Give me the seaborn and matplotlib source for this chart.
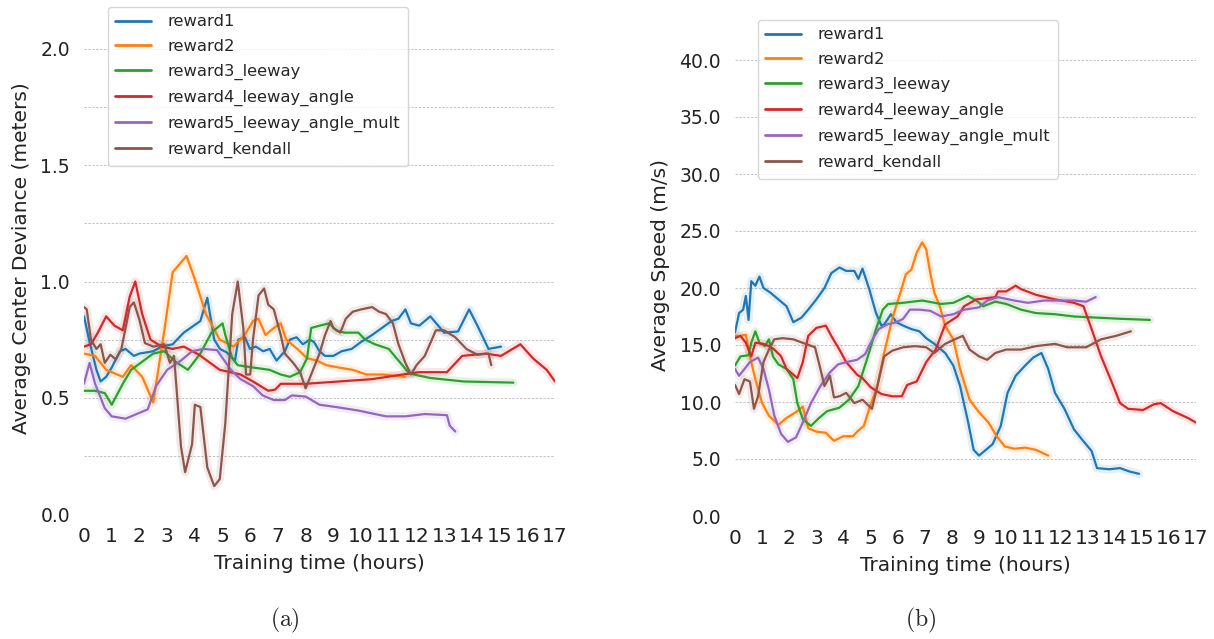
import numpy as np
import pandas as pd
import matplotlib
matplotlib.use("Agg")
import matplotlib.pyplot as plt
from matplotlib.ticker import MultipleLocator, FormatStrFormatter
import seaborn as sns

# ---------------- DATA ----------------
series_names = ["reward1", "reward2", "reward3_leeway", "reward4_leeway_angle",
                "reward5_leeway_angle_mult", "reward_kendall"]
x_ticks = list(range(0, 18))

# (a) Average Center Deviance (meters)
dev_r1_t = [0, 0.2, 0.45, 0.6, 0.8, 1.0, 1.3, 1.5, 1.8, 2.0, 2.5, 2.8, 3.2, 3.6, 4.2, 4.45, 4.7, 4.91, 5.15, 5.45, 5.57, 5.81, 5.99, 6.2, 6.47, 6.7, 6.95, 7.25, 7.43, 7.67, 7.9, 8.15, 8.3, 8.5, 8.7, 9.0, 9.3, 9.66, 10.0, 10.4, 10.75, 11.1, 11.35, 11.6, 11.8, 12.1, 12.5, 13.0, 13.5, 13.9, 14.2, 14.6, 15.05]
dev_r1_v = [0.85, 0.74, 0.62, 0.57, 0.59, 0.63, 0.70, 0.71, 0.68, 0.69, 0.70, 0.72, 0.73, 0.78, 0.83, 0.93, 0.75, 0.71, 0.695, 0.66, 0.75, 0.76, 0.71, 0.72, 0.70, 0.71, 0.66, 0.70, 0.75, 0.76, 0.73, 0.75, 0.74, 0.70, 0.68, 0.68, 0.70, 0.71, 0.74, 0.77, 0.80, 0.83, 0.84, 0.88, 0.82, 0.81, 0.85, 0.78, 0.785, 0.88, 0.81, 0.71, 0.72]

dev_r2_t = [0, 0.4, 0.8, 1.4, 1.7, 2.1, 2.5, 2.9, 3.2, 3.7, 4.0, 4.4, 4.9, 5.4, 5.8, 6.1, 6.3, 6.55, 6.85, 7.1, 7.3, 7.7, 8.05, 8.4, 8.75, 9.2, 9.7, 10.2, 10.75, 11.6]
dev_r2_v = [0.69, 0.68, 0.62, 0.59, 0.64, 0.59, 0.48, 0.79, 1.04, 1.11, 1.01, 0.86, 0.75, 0.72, 0.77, 0.83, 0.84, 0.77, 0.80, 0.82, 0.75, 0.71, 0.67, 0.66, 0.64, 0.63, 0.62, 0.60, 0.60, 0.59]

dev_r3_t = [0, 0.4, 0.75, 1.0, 1.4, 1.7, 2.1, 2.5, 2.9, 3.3, 3.75, 4.2, 4.6, 5.0, 5.1, 5.35, 5.55, 6.1, 6.7, 7.1, 7.43, 7.8, 8.05, 8.2, 8.5, 8.85, 9.1, 9.4, 9.9, 10.15, 10.5, 11.0, 11.35, 11.7, 11.9, 12.5, 13.7, 15.5]
dev_r3_v = [0.53, 0.53, 0.52, 0.47, 0.56, 0.62, 0.655, 0.69, 0.70, 0.655, 0.62, 0.69, 0.78, 0.82, 0.77, 0.67, 0.64, 0.63, 0.62, 0.60, 0.59, 0.61, 0.67, 0.80, 0.81, 0.82, 0.79, 0.78, 0.78, 0.75, 0.73, 0.71, 0.66, 0.61, 0.60, 0.585, 0.57, 0.565]

dev_r4_t = [0, 0.25, 0.5, 0.8, 1.1, 1.4, 1.65, 1.85, 2.1, 2.4, 2.8, 3.2, 3.6, 4.15, 4.9, 5.65, 6.1, 6.65, 6.9, 7.1, 8.0, 9.2, 10.4, 11.5, 12.1, 13.1, 13.65, 14.5, 15.05, 15.75, 16.2, 16.7, 17.0]
dev_r4_v = [0.72, 0.73, 0.78, 0.85, 0.81, 0.79, 0.935, 1.0, 0.86, 0.75, 0.72, 0.71, 0.72, 0.685, 0.62, 0.60, 0.57, 0.53, 0.535, 0.56, 0.56, 0.57, 0.58, 0.60, 0.61, 0.61, 0.68, 0.69, 0.68, 0.73, 0.67, 0.62, 0.57]

dev_r5_t = [0, 0.2, 0.4, 0.75, 1.0, 1.5, 1.9, 2.3, 2.6, 3.0, 3.5, 3.9, 4.3, 4.8, 5.3, 5.65, 6.1, 6.45, 6.85, 7.25, 7.5, 8.0, 8.5, 9.1, 9.9, 10.9, 11.6, 12.3, 13.1, 13.2, 13.4]
dev_r5_v = [0.56, 0.65, 0.56, 0.455, 0.42, 0.41, 0.43, 0.45, 0.55, 0.62, 0.66, 0.70, 0.71, 0.705, 0.62, 0.58, 0.55, 0.51, 0.49, 0.49, 0.51, 0.505, 0.47, 0.46, 0.445, 0.42, 0.42, 0.43, 0.425, 0.38, 0.355]

dev_rk_t = [0, 0.1, 0.25, 0.45, 0.6, 0.75, 0.95, 1.15, 1.35, 1.65, 1.8, 2.0, 2.2, 2.5, 2.9, 3.1, 3.25, 3.5, 3.65, 3.9, 4.0, 4.2, 4.45, 4.7, 4.9, 5.1, 5.35, 5.55, 5.75, 5.85, 6.0, 6.1, 6.3, 6.5, 6.65, 6.85, 7.1, 7.25, 7.55, 7.8, 8.0, 8.2, 8.5, 8.7, 8.9, 9.0, 9.25, 9.45, 9.7, 10.0, 10.4, 10.65, 10.9, 11.15, 11.35, 11.6, 11.8, 12.0, 12.3, 12.7, 13.0, 13.4, 13.8, 14.2, 14.6, 14.7]
dev_rk_v = [0.89, 0.88, 0.75, 0.71, 0.73, 0.65, 0.685, 0.665, 0.71, 0.89, 0.91, 0.835, 0.735, 0.72, 0.73, 0.65, 0.68, 0.29, 0.18, 0.30, 0.47, 0.46, 0.20, 0.12, 0.15, 0.39, 0.86, 1.0, 0.80, 0.60, 0.60, 0.75, 0.94, 0.97, 0.90, 0.88, 0.77, 0.69, 0.65, 0.61, 0.54, 0.60, 0.69, 0.77, 0.83, 0.80, 0.78, 0.84, 0.87, 0.88, 0.89, 0.87, 0.86, 0.82, 0.73, 0.65, 0.60, 0.64, 0.68, 0.79, 0.79, 0.76, 0.71, 0.685, 0.69, 0.64]

# (b) Average Speed (m/s)
spd_r1_t = [0, 0.15, 0.3, 0.4, 0.5, 0.6, 0.75, 0.9, 1.05, 1.3, 1.6, 1.9, 2.15, 2.45, 2.7, 3.0, 3.3, 3.55, 3.85, 4.1, 4.4, 4.55, 4.7, 4.95, 5.2, 5.4, 5.5, 5.75, 5.95, 6.2, 6.5, 6.8, 7.05, 7.35, 7.75, 8.05, 8.3, 8.6, 8.8, 9.0, 9.2, 9.5, 9.8, 10.05, 10.35, 10.7, 11.0, 11.3, 11.55, 11.8, 12.15, 12.5, 12.8, 13.15, 13.35, 13.8, 14.2, 14.55, 14.9]
spd_r1_v = [16.1, 17.8, 18.1, 19.3, 17.2, 20.6, 20.2, 21.0, 20.0, 19.6, 19.0, 18.4, 17.0, 17.4, 18.1, 19.0, 20.0, 21.3, 21.8, 21.5, 21.5, 20.8, 21.7, 19.9, 17.8, 16.7, 16.8, 17.7, 17.0, 16.7, 16.4, 16.2, 15.6, 15.1, 14.3, 13.2, 11.4, 8.2, 5.8, 5.3, 5.7, 6.3, 7.9, 10.8, 12.3, 13.2, 13.9, 14.3, 12.9, 10.8, 9.4, 7.6, 6.7, 5.7, 4.2, 4.1, 4.2, 3.9, 3.7]

spd_r2_t = [0, 0.2, 0.4, 0.55, 0.75, 1.0, 1.25, 1.6, 1.9, 2.3, 2.5, 2.7, 3.0, 3.35, 3.65, 4.0, 4.35, 4.55, 4.75, 4.95, 5.25, 5.5, 5.8, 6.1, 6.3, 6.5, 6.7, 6.9, 7.05, 7.2, 7.35, 7.55, 7.75, 8.05, 8.3, 8.65, 9.0, 9.35, 9.65, 9.95, 10.3, 10.7, 11.1, 11.55]
spd_r2_v = [15.8, 15.8, 15.9, 14.0, 12.0, 9.9, 8.8, 8.0, 8.6, 9.2, 9.6, 7.7, 7.4, 7.3, 6.6, 7.0, 7.0, 7.5, 7.9, 9.4, 11.4, 14.3, 17.3, 19.6, 21.2, 21.6, 23.1, 24.0, 23.4, 21.3, 19.6, 18.4, 16.7, 15.5, 12.9, 10.2, 9.1, 8.2, 7.0, 6.1, 5.9, 6.0, 5.8, 5.3]

spd_r3_t = [0, 0.2, 0.5, 0.6, 0.75, 0.9, 1.1, 1.25, 1.4, 1.6, 1.9, 2.15, 2.3, 2.5, 2.8, 3.1, 3.4, 3.85, 4.2, 4.55, 4.9, 5.2, 5.45, 5.65, 6.2, 6.9, 7.6, 8.05, 8.6, 8.9, 9.15, 9.6, 10.0, 10.55, 11.1, 11.8, 12.5, 13.35, 14.2, 15.3]
spd_r3_v = [13.2, 14.0, 14.1, 15.2, 16.2, 15.2, 14.9, 15.5, 14.0, 13.3, 12.9, 12.0, 9.9, 8.5, 7.9, 8.6, 9.2, 9.5, 10.2, 11.4, 14.0, 16.4, 18.1, 18.6, 18.7, 18.9, 18.6, 18.7, 19.3, 18.9, 18.4, 18.8, 18.6, 18.1, 17.8, 17.7, 17.5, 17.4, 17.3, 17.2]

spd_r4_t = [0, 0.2, 0.4, 0.6, 0.75, 1.05, 1.25, 1.45, 1.7, 1.9, 2.15, 2.3, 2.5, 2.7, 3.0, 3.35, 3.55, 3.85, 4.1, 4.5, 4.7, 5.0, 5.4, 5.8, 6.15, 6.35, 6.7, 7.05, 7.4, 7.75, 8.2, 8.45, 8.9, 9.6, 9.7, 10.0, 10.35, 10.55, 11.1, 11.8, 12.5, 12.85, 13.15, 13.5, 13.9, 14.2, 14.5, 15.05, 15.45, 15.7, 16.15, 16.7, 17.0]
spd_r4_v = [15.6, 15.8, 15.2, 14.0, 15.2, 15.1, 14.9, 14.6, 14.0, 12.9, 12.4, 12.1, 13.5, 15.8, 16.5, 16.7, 15.8, 14.6, 13.5, 12.4, 12.1, 11.3, 10.7, 10.5, 10.5, 11.5, 11.8, 13.5, 14.6, 16.8, 17.5, 18.4, 19.0, 19.2, 19.7, 19.7, 20.2, 19.9, 19.4, 19.0, 18.7, 18.4, 16.4, 14.0, 11.7, 9.9, 9.4, 9.3, 9.8, 9.9, 9.2, 8.6, 8.2]

spd_r5_t = [0, 0.15, 0.35, 0.55, 0.85, 1.05, 1.25, 1.45, 1.7, 1.95, 2.25, 2.5, 2.8, 3.15, 3.5, 3.8, 4.1, 4.5, 4.8, 5.05, 5.3, 5.6, 5.95, 6.2, 6.45, 6.8, 7.2, 7.6, 8.05, 8.45, 9.0, 9.3, 9.7, 10.3, 10.8, 11.4, 11.95, 12.5, 12.95, 13.3]
spd_r5_v = [12.9, 12.3, 12.9, 13.5, 13.9, 12.9, 11.1, 8.8, 7.2, 6.5, 6.9, 8.2, 9.9, 11.4, 12.6, 13.3, 13.5, 13.7, 14.2, 15.4, 16.4, 16.8, 17.0, 17.3, 18.1, 18.1, 18.0, 17.5, 17.7, 18.1, 18.3, 18.9, 19.2, 18.9, 18.7, 18.9, 18.9, 18.9, 18.8, 19.2]

spd_rk_t = [0, 0.15, 0.35, 0.55, 0.7, 0.85, 1.05, 1.25, 1.45, 1.75, 2.15, 2.6, 2.95, 3.15, 3.3, 3.5, 3.65, 3.85, 4.1, 4.4, 4.7, 5.05, 5.25, 5.5, 5.8, 6.2, 6.65, 7.05, 7.35, 7.75, 8.2, 8.4, 8.65, 9.0, 9.3, 9.6, 10.0, 10.55, 11.1, 11.8, 12.25, 12.95, 13.5, 14.05, 14.6]
spd_rk_v = [11.5, 10.7, 12.0, 11.8, 9.4, 10.5, 13.5, 14.6, 15.5, 15.6, 15.5, 15.1, 14.8, 12.9, 11.4, 12.3, 10.4, 10.5, 10.8, 9.9, 10.2, 9.4, 11.4, 14.0, 14.5, 14.8, 14.9, 14.8, 14.3, 15.1, 15.6, 15.8, 14.6, 14.0, 13.7, 14.3, 14.6, 14.6, 14.9, 15.1, 14.8, 14.8, 15.5, 15.8, 16.2]

# --------------- build long tables ---------------
def build(ts, vs):
    frames = []
    for name, t, v in zip(series_names, ts, vs):
        frames.append(pd.DataFrame({"t": t, "v": v, "series": name}))
    return pd.concat(frames, ignore_index=True)

df_dev = build([dev_r1_t, dev_r2_t, dev_r3_t, dev_r4_t, dev_r5_t, dev_rk_t],
               [dev_r1_v, dev_r2_v, dev_r3_v, dev_r4_v, dev_r5_v, dev_rk_v])
df_spd = build([spd_r1_t, spd_r2_t, spd_r3_t, spd_r4_t, spd_r5_t, spd_rk_t],
               [spd_r1_v, spd_r2_v, spd_r3_v, spd_r4_v, spd_r5_v, spd_rk_v])

# --------------- style ---------------
sns.set_theme(style="whitegrid")
plt.rcParams["font.family"] = ["DejaVu Sans"]
plt.rcParams["mathtext.fontset"] = "cm"
palette = dict(zip(series_names, sns.color_palette("tab10", 6)))

W, H = 1214, 639
fig = plt.figure(figsize=(W / 100, H / 100), dpi=100)

def px_axes(x0, x1, ytop, ybot):
    return fig.add_axes([x0 / W, 1 - ybot / H, (x1 - x0) / W, (ybot - ytop) / H])

ax1 = px_axes(84, 555, 2.5, 514)
ax2 = px_axes(735, 1196, 14.4, 516)

def draw(ax, df, ylim, major, minor, ylabel, fmt, leg_xy):
    sns.lineplot(data=df, x="t", y="v", hue="series", hue_order=series_names,
                 palette=palette, linewidth=6, alpha=0.12, legend=False,
                 errorbar=None, ax=ax)
    sns.lineplot(data=df, x="t", y="v", hue="series", hue_order=series_names,
                 palette=palette, linewidth=1.6, errorbar=None, ax=ax)
    ax.set_xlim(0, 17)
    ax.set_ylim(*ylim)
    ax.set_xticks(x_ticks)
    ax.yaxis.set_major_locator(MultipleLocator(major))
    ax.yaxis.set_minor_locator(MultipleLocator(minor))
    ax.yaxis.set_major_formatter(FormatStrFormatter(fmt))
    ax.grid(False, axis="x")
    ax.grid(True, axis="y", which="both", linestyle=(0, (2.5, 1.5)), color="#c4c4c4", linewidth=0.7)
    ax.tick_params(axis="x", length=0, pad=9, labelsize=14.5, labelcolor="#222222")
    ax.tick_params(axis="y", which="both", length=0, pad=10, labelsize=13.5, labelcolor="#222222")
    ax.set_xlabel("Training time (hours)", fontsize=14.5, color="#222222", labelpad=6)
    ax.set_ylabel(ylabel, fontsize=14.5, color="#222222", labelpad=7)
    sns.despine(ax=ax, left=True, bottom=True)
    sns.move_legend(ax, loc="upper left", bbox_to_anchor=(leg_xy[0] / W, 1 - leg_xy[1] / H),
                    bbox_transform=fig.transFigure, borderaxespad=0, title=None,
                    fontsize=11.8, frameon=True, labelspacing=0.6, handlelength=2.2,
                    handletextpad=1.0, borderpad=0.45)
    for line in ax.get_legend().get_lines():
        line.set_linewidth(2)

draw(ax1, df_dev, (0, 2.2), 0.5, 0.25, "Average Center Deviance (meters)", "%.1f", (108, 7))
draw(ax2, df_spd, (0, 44), 5, 5, "Average Speed (m/s)", "%.1f", (758, 20))

fig.text(285 / W, 1 - 620 / H, r"$\mathrm{(a)}$", ha="center", va="center", fontsize=17)
fig.text(921 / W, 1 - 620 / H, r"$\mathrm{(b)}$", ha="center", va="center", fontsize=17)

fig.savefig("out.png", dpi=100)
